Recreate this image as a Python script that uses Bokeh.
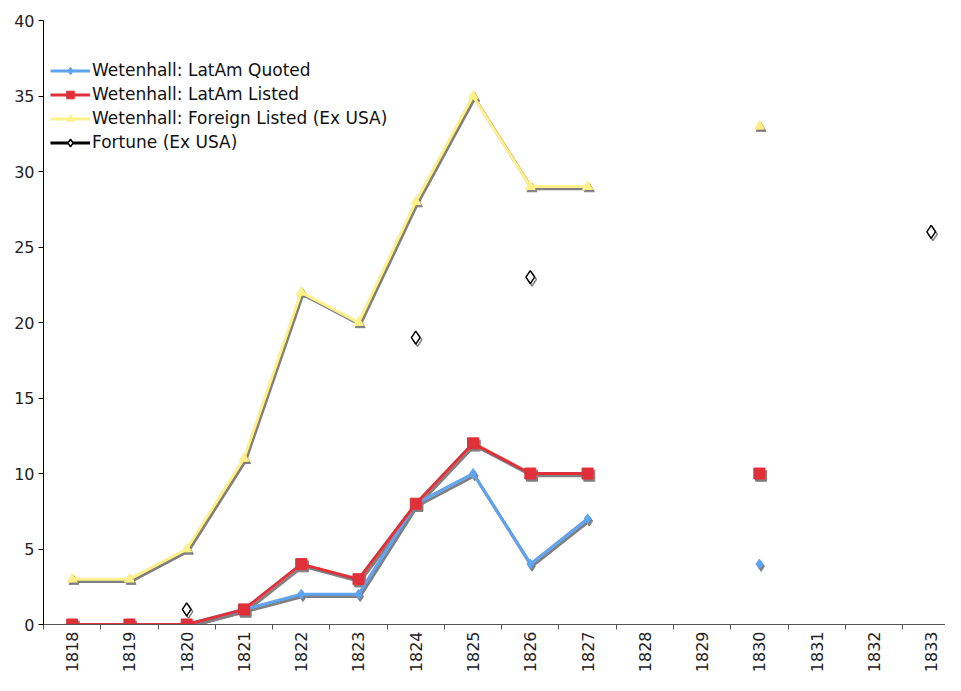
import numpy as np
from bokeh.plotting import figure
from bokeh.models import FixedTicker, Legend, LegendItem, ColumnDataSource
from bokeh.transform import dodge
from bokeh.embed import file_html
from bokeh.resources import INLINE

nan = float("nan")
years = ["1818", "1819", "1820", "1821", "1822", "1823", "1824", "1825",
         "1826", "1827", "1828", "1829", "1830", "1831", "1832", "1833"]
latam_quoted = [0, 0, 0, 1, 2, 2, 8, 10, 4, 7, nan, nan, 4, nan, nan, nan]
latam_listed = [0, 0, 0, 1, 4, 3, 8, 12, 10, 10, nan, nan, 10, nan, nan, nan]
foreign_listed = [3, 3, 5, 11, 22, 20, 28, 35, 29, 29, nan, nan, 33, nan, nan, nan]
fortune = [nan, nan, 1, nan, nan, nan, 19, nan, 23, nan, nan, nan, nan, nan, nan, 26]
y_ticks = [0, 5, 10, 15, 20, 25, 30, 35, 40]

xpos = [i + 0.5 for i in range(len(years))]
src = ColumnDataSource(dict(x=xpos, q=latam_quoted, l=latam_listed, f=foreign_listed, ft=fortune))

FONT = "DejaVu Sans"
p = figure(width=945, height=675, output_backend="svg", toolbar_location=None,
           x_range=(0, 15.75), y_range=(0, 40),
           min_border_left=43, min_border_top=20, min_border_right=0, min_border_bottom=0)
p.background_fill_color = "white"
p.border_fill_color = "white"
p.outline_line_color = None
p.xgrid.visible = False
p.ygrid.visible = False

# axes
p.xaxis.ticker = FixedTicker(ticks=xpos, minor_ticks=list(range(0, len(years) + 1)))
p.xaxis.major_label_overrides = {x: y for x, y in zip(xpos, years)}
p.xaxis.major_label_orientation = np.pi / 2
p.xaxis.major_tick_out = 0
p.xaxis.major_tick_in = 0
p.xaxis.minor_tick_out = 5
p.xaxis.minor_tick_in = 0
p.xaxis.minor_tick_line_color = "#555555"
p.xaxis.axis_line_color = "#555555"
p.xaxis.major_label_standoff = 2
p.yaxis.ticker = FixedTicker(ticks=y_ticks)
p.yaxis.minor_tick_line_color = None
p.yaxis.major_tick_out = 5
p.yaxis.major_tick_in = 0
p.yaxis.major_label_standoff = 4
for ax in (p.xaxis, p.yaxis):
    ax.major_label_text_font = FONT
    ax.major_label_text_font_size = "16px"
    ax.major_label_text_color = "#222222"

SH = "#808080"
dx, dy = 0.03, -0.15
blue, red, yellow = "#5fa4f2", "#e0303a", "#fff08a"

series = [("q", blue, "diamond", 10), ("l", red, "square", 11), ("f", yellow, "triangle", 10)]
items = []
# shadows
for col, c, m, s in series:
    p.line(x=dodge("x", dx), y=dodge(col, dy), source=src, line_color=SH, line_width=3)
    p.scatter(x=dodge("x", dx), y=dodge(col, dy), source=src, marker=m, size=s,
              fill_color=SH, line_color=SH)
p.scatter(x=dodge("x", dx), y=dodge("ft", dy), source=src, marker="diamond", size=13,
          fill_color=None, line_color=SH, line_width=1.5)

names = ["Wetenhall: LatAm Quoted", "Wetenhall: LatAm Listed",
         "Wetenhall: Foreign Listed (Ex USA)"]
for (col, c, m, s), nm in zip(series, names):
    r1 = p.line(x="x", y=col, source=src, line_color=c, line_width=3)
    r2 = p.scatter(x="x", y=col, source=src, marker=m, size=s, fill_color=c, line_color=c)
    items.append(LegendItem(label=nm, renderers=[r1, r2]))
r1 = p.line(x="x", y="ft", source=src, line_color="black", line_width=3)
r2 = p.scatter(x="x", y="ft", source=src, marker="diamond", size=13,
               fill_color="white", line_color="black", line_width=1.5)
items.append(LegendItem(label="Fortune (Ex USA)", renderers=[r1, r2]))

leg = Legend(items=items, location=(7, 472))
leg.label_text_font = FONT
leg.label_text_font_size = "17px"
leg.label_text_color = "#111111"
leg.border_line_color = None
leg.background_fill_alpha = 0
leg.glyph_width = 40
leg.glyph_height = 19
leg.label_height = 19
leg.spacing = 4
leg.padding = 0
leg.margin = 0
leg.label_standoff = 2
p.add_layout(leg)

open("out.html", "w").write(file_html(p, INLINE))
